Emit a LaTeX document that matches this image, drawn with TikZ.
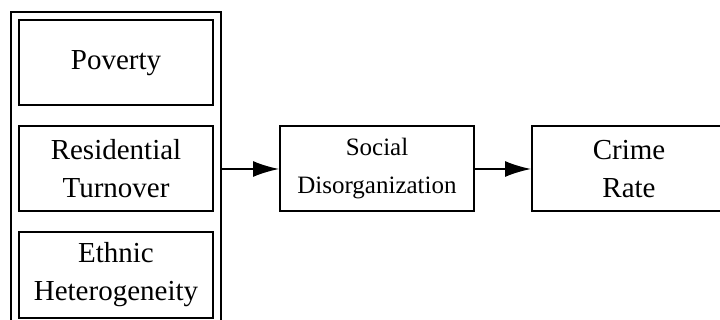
\documentclass[tikz,border=0pt]{standalone}
\usepackage{fontspec}
\setmainfont{Liberation Serif}
\usepackage{tikz}
\usetikzlibrary{arrows.meta,positioning,fit}

\begin{document}
\begin{tikzpicture}[
  x=1pt,y=-1pt,
  box/.style={draw,line width=2pt,align=center,minimum width=194pt,minimum height=85pt,inner sep=0pt,
    font={\fontsize{29}{38}\selectfont}},
  arr/.style={-{Latex[length=26pt,width=16pt]},line width=1.8pt}
]
\useasboundingbox (0,0) rectangle (720,320);
\clip (0,0) rectangle (720,320);
\node[box] (pov) at (116,63) {Poverty};
\node[box,below=19pt of pov] (res) {Residential\\Turnover};
\node[box,below=19pt of res] (eth) {Ethnic\\Heterogeneity};
\node[draw,line width=2pt,inner sep=7pt,fit=(pov)(res)(eth)] (grp) {};
\node[box,right=57pt of grp,font={\fontsize{25}{38}\selectfont}] (soc) {Social\\Disorganization};
\node[box,right=56pt of soc] (crime) {Crime\\Rate};
\draw[arr] (grp) -- (soc);
\draw[arr] (soc) -- (crime);
\end{tikzpicture}
\end{document}
